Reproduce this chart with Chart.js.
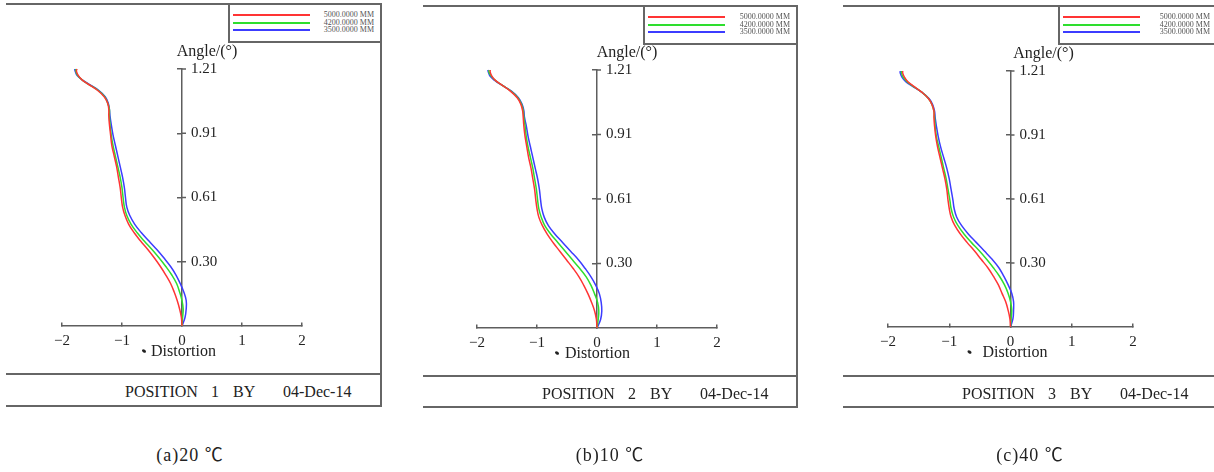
<!DOCTYPE html>
<html>
<head>
<meta charset="utf-8">
<title>Distortion vs angle</title>
<script src="https://cdn.jsdelivr.net/npm/chart.js@4.4.1/dist/chart.umd.min.js"></script>
<style>
  html, body { margin: 0; padding: 0; background: #fff; }
  #page { position: relative; width: 1214px; height: 472px; overflow: hidden;
          font-family: "Liberation Serif", "Times New Roman", serif; color: #222; }
  #page canvas { position: absolute; left: 0; top: 0; }
  .rule { position: absolute; background: #666; }
  .leg-line { position: absolute; height: 2px; }
  .leg-text { position: absolute; font-size: 8px; line-height: 8px; text-align: right; white-space: nowrap;
              color: #555; background: #fff; }
  .foot { position: absolute; font-size: 16px; line-height: 16px; white-space: nowrap; }
  .caption { position: absolute; width: 160px; text-align: center; font-size: 18px; line-height: 20px;
             letter-spacing: 1px; font-family: "Liberation Serif", "Noto Sans CJK SC", serif; }
</style>
</head>
<body>
<div id="page"></div>
<script>
// angle stations shared by every run (deg)
const angles = [0, 0.04, 0.08, 0.12, 0.16, 0.20, 0.24, 0.28, 0.32, 0.36, 0.40, 0.44, 0.48, 0.52, 0.56, 0.60,
                0.65, 0.70, 0.75, 0.80, 0.85, 0.90, 0.95, 0.99, 1.02, 1.05, 1.08, 1.11, 1.14, 1.16, 1.18, 1.20, 1.21];

// distortion per station, position 1
const pos1_5000 = [0, -0.01, -0.04, -0.08, -0.13, -0.19, -0.27, -0.36, -0.46, -0.57, -0.69, -0.80, -0.89, -0.95, -0.99, -1.01,
                   -1.03, -1.06, -1.09, -1.13, -1.17, -1.19, -1.21, -1.22, -1.22, -1.24, -1.30, -1.41, -1.57, -1.67, -1.73, -1.76, -1.75];
const pos1_4200 = [0, 0.01, 0.02, 0.00, -0.04, -0.09, -0.17, -0.27, -0.38, -0.50, -0.63, -0.75, -0.85, -0.92, -0.96, -0.98,
                   -1.00, -1.03, -1.07, -1.11, -1.15, -1.18, -1.20, -1.21, -1.21, -1.24, -1.29, -1.40, -1.57, -1.67, -1.74, -1.77, -1.77];
const pos1_3500 = [0, 0.05, 0.07, 0.07, 0.03, -0.03, -0.10, -0.19, -0.30, -0.42, -0.55, -0.68, -0.79, -0.87, -0.92, -0.94,
                   -0.96, -0.99, -1.03, -1.07, -1.11, -1.15, -1.18, -1.20, -1.21, -1.23, -1.28, -1.39, -1.56, -1.67, -1.75, -1.78, -1.79];

// position 2
const pos2_5000 = [0, -0.01, -0.04, -0.09, -0.15, -0.22, -0.30, -0.40, -0.51, -0.62, -0.73, -0.83, -0.91, -0.97, -1.00, -1.02,
                   -1.04, -1.07, -1.10, -1.14, -1.17, -1.20, -1.22, -1.23, -1.24, -1.27, -1.33, -1.44, -1.59, -1.69, -1.75, -1.78, -1.78];
const pos2_4200 = [0, 0.02, 0.03, 0.01, -0.04, -0.10, -0.18, -0.29, -0.41, -0.53, -0.65, -0.77, -0.87, -0.93, -0.97, -0.99,
                   -1.01, -1.04, -1.07, -1.11, -1.15, -1.18, -1.20, -1.22, -1.23, -1.26, -1.32, -1.43, -1.59, -1.69, -1.76, -1.80, -1.80];
const pos2_3500 = [0, 0.06, 0.08, 0.07, 0.04, -0.02, -0.10, -0.20, -0.31, -0.44, -0.57, -0.70, -0.81, -0.88, -0.92, -0.94,
                   -0.96, -0.99, -1.03, -1.07, -1.11, -1.15, -1.18, -1.21, -1.22, -1.25, -1.31, -1.42, -1.59, -1.70, -1.78, -1.81, -1.82];

// position 3
const pos3_5000 = [0, -0.01, -0.04, -0.08, -0.14, -0.20, -0.28, -0.37, -0.48, -0.59, -0.71, -0.82, -0.91, -0.97, -1.00, -1.02,
                   -1.04, -1.07, -1.11, -1.15, -1.19, -1.22, -1.24, -1.25, -1.25, -1.28, -1.34, -1.45, -1.59, -1.68, -1.73, -1.76, -1.76];
const pos3_4200 = [0, 0.01, 0.02, 0.00, -0.04, -0.10, -0.18, -0.28, -0.39, -0.51, -0.64, -0.76, -0.86, -0.93, -0.97, -0.99,
                   -1.02, -1.05, -1.09, -1.13, -1.17, -1.21, -1.23, -1.24, -1.25, -1.28, -1.34, -1.45, -1.60, -1.69, -1.75, -1.78, -1.78];
const pos3_3500 = [0, 0.04, 0.05, 0.05, 0.02, -0.04, -0.11, -0.19, -0.30, -0.43, -0.56, -0.69, -0.80, -0.88, -0.92, -0.94,
                   -0.97, -1.00, -1.04, -1.09, -1.14, -1.18, -1.21, -1.23, -1.24, -1.27, -1.33, -1.45, -1.61, -1.71, -1.77, -1.80, -1.80];

const seriesLabels = ['5000.0000 MM', '4200.0000 MM', '3500.0000 MM'];
const seriesColors = ['#ff3434', '#2ede2e', '#3c3cff'];

const xTicks = [-2, -1, 0, 1, 2];
const yTicks = [0.3025, 0.605, 0.9075, 1.21];
const yTickLabels = ['0.30', '0.61', '0.91', '1.21'];

const positionNumbers = ['1', '2', '3'];
const runDate = '04-Dec-14';
const captions = ['(a)20 \u2103', '(b)10 \u2103', '(c)40 \u2103'];

const W = 1214, H = 472;
const axisColor = '#5e5e5e';
const textColor = '#222';
const serif = '"Liberation Serif", "Times New Roman", serif';

// frame / plot placement of each panel on the page
const panels = [
  { series: [pos1_5000, pos1_4200, pos1_3500],
    frame: { l: 6, t: 3, r: 380, sep: 373, b: 405 }, legL: 228, legB: 41,
    area: { l: 62, r: 302, t: 69, b: 326 }, footX: 125, footY: 384, capX: 190,
    angleDx: 25, distDx: -31, dotDx: -38 },
  { series: [pos2_5000, pos2_4200, pos2_3500],
    frame: { l: 423, t: 5, r: 796, sep: 375, b: 406 }, legL: 643, legB: 43,
    area: { l: 477, r: 717, t: 70, b: 328 }, footX: 542, footY: 386, capX: 610,
    angleDx: 30, distDx: -32, dotDx: -40 },
  { series: [pos3_5000, pos3_4200, pos3_3500],
    frame: { l: 843, t: 5, r: 1216, sep: 375, b: 406 }, legL: 1058, legB: 43,
    area: { l: 888, r: 1133, t: 71, b: 327 }, footX: 962, footY: 386, capX: 1030,
    angleDx: 33, distDx: -28, dotDx: -41 }
];

const page = document.getElementById('page');

function box(cls, css, text) {
  const el = document.createElement('div');
  el.className = cls;
  Object.assign(el.style, css);
  if (text !== undefined) el.textContent = text;
  page.appendChild(el);
  return el;
}

// y tick labels on the right of the axis, cross ticks and axis names
const axisText = {
  id: 'axisText',
  afterDraw(chart, args, opts) {
    const { ctx } = chart;
    const { x, y } = chart.scales;
    const x0 = x.getPixelForValue(0);
    const y0 = y.getPixelForValue(0);
    ctx.save();
    ctx.strokeStyle = axisColor;
    ctx.lineWidth = 1.5;
    ctx.fillStyle = textColor;
    ctx.font = '15px ' + serif;
    ctx.textAlign = 'left';
    ctx.textBaseline = 'middle';
    y.ticks.forEach((t, i) => {
      const py = y.getPixelForValue(t.value);
      ctx.beginPath();
      ctx.moveTo(x0, py);
      ctx.lineTo(x0 + 4, py);
      ctx.stroke();
      ctx.fillText(yTickLabels[i], x0 + 9, py);
    });
    ctx.font = '16px ' + serif;
    ctx.textAlign = 'center';
    ctx.fillText('Angle/(\u00b0)', x0 + opts.angleDx, y.top - 17);
    ctx.textAlign = 'left';
    ctx.fillText('Distortion', x0 + opts.distDx, y0 + 26);
    ctx.beginPath();
    ctx.ellipse(x0 + opts.dotDx, y0 + 25, 2.2, 1.5, 0.6, 0, Math.PI * 2);
    ctx.fill();
    ctx.restore();
  }
};

panels.forEach((p, n) => {
  const f = p.frame;
  // frame rules
  box('rule', { left: f.l + 'px', top: f.t + 'px', width: (f.r - f.l + 2) + 'px', height: '2px' });
  box('rule', { left: f.r + 'px', top: f.t + 'px', width: '2px', height: (f.b - f.t + 2) + 'px' });
  box('rule', { left: f.l + 'px', top: f.sep + 'px', width: (f.r - f.l) + 'px', height: '2px' });
  box('rule', { left: f.l + 'px', top: f.b + 'px', width: (f.r - f.l + 2) + 'px', height: '2px' });
  // legend box
  box('rule', { left: p.legL + 'px', top: f.t + 'px', width: '2px', height: (p.legB - f.t + 2) + 'px' });
  box('rule', { left: p.legL + 'px', top: p.legB + 'px', width: (f.r - p.legL) + 'px', height: '2px' });
  seriesLabels.forEach((lab, i) => {
    const yy = f.t + 12 + i * 7.5;
    box('leg-line', { left: (p.legL + 5) + 'px', top: (yy - 1) + 'px', width: '77px', background: seriesColors[i] });
    box('leg-text', { right: (W - f.r + 6) + 'px', top: (yy - 4) + 'px' }, lab);
  });
  // footer
  const words = ['POSITION', positionNumbers[n], 'BY', runDate];
  const offs = [0, 86, 108, 158];
  words.forEach((w, i) => box('foot', { left: (p.footX + offs[i]) + 'px', top: p.footY + 'px' }, w));
  box('caption', { left: (p.capX - 80) + 'px', top: '445px' }, captions[n]);

  const canvas = document.createElement('canvas');
  canvas.width = W;
  canvas.height = H;
  page.appendChild(canvas);

  new Chart(canvas, {
    type: 'line',
    data: {
      datasets: p.series.map((vals, i) => ({
        label: seriesLabels[i],
        data: vals.map((d, k) => ({ x: d, y: angles[k] })),
        borderColor: seriesColors[i],
        borderWidth: 1.5,
        pointRadius: 0,
        tension: 0.4,
        fill: false,
        clip: 4
      }))
    },
    options: {
      responsive: false,
      animation: false,
      events: [],
      layout: { padding: { left: p.area.l, right: W - p.area.r, top: p.area.t, bottom: H - p.area.b } },
      plugins: {
        legend: { display: false },
        tooltip: { enabled: false },
        axisText: { angleDx: p.angleDx, distDx: p.distDx, dotDx: p.dotDx }
      },
      scales: {
        x: {
          type: 'linear', min: -2, max: 2, position: { y: 0 },
          afterBuildTicks: s => { s.ticks = xTicks.map(v => ({ value: v })); },
          grid: { drawOnChartArea: false, tickLength: -4, color: axisColor, lineWidth: 1.5 },
          border: { color: axisColor, width: 1.5 },
          ticks: {
            padding: 10, maxRotation: 0, autoSkip: false, color: textColor,
            font: { family: serif, size: 15 },
            callback: v => v < 0 ? '\u2212' + Math.abs(v) : String(v)
          }
        },
        y: {
          type: 'linear', min: 0, max: 1.21, position: { x: 0 },
          afterBuildTicks: s => { s.ticks = yTicks.map(v => ({ value: v })); },
          grid: { drawOnChartArea: false, tickLength: 4, color: axisColor, lineWidth: 1.5 },
          border: { color: axisColor, width: 1.5 },
          ticks: { display: false }
        }
      }
    },
    plugins: [axisText]
  });
});
</script>
</body>
</html>
